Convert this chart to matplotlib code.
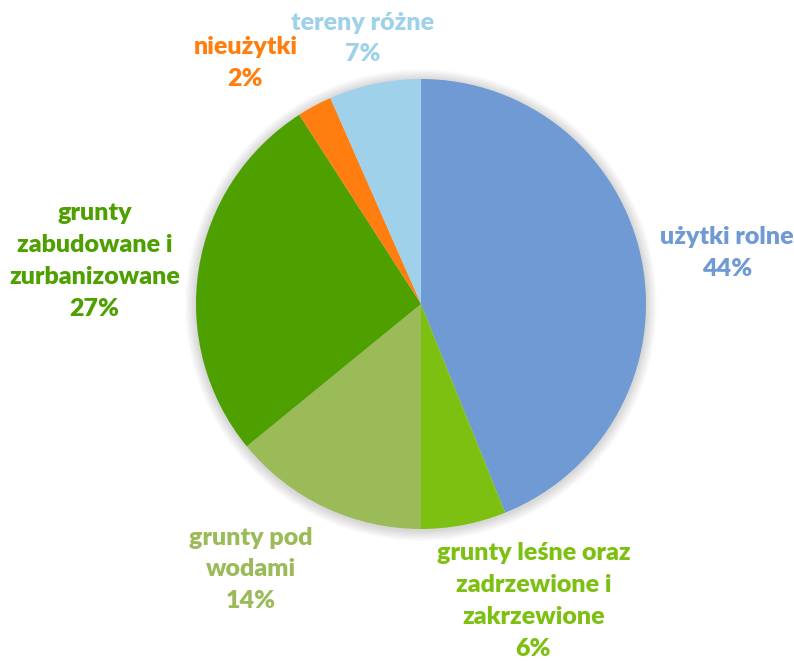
import matplotlib.pyplot as plt
from matplotlib.patches import Circle

# slices clockwise from 12 o'clock
labels = ['użytki rolne', 'grunty leśne oraz\nzadrzewione i\nzakrzewione', 'grunty pod\nwodami',
          'grunty\nzabudowane i\nzurbanizowane', 'nieużytki', 'tereny różne']
values = [43.9, 6.1, 14.1, 26.8, 2.5, 6.6]
pct_text = ['44%', '6%', '14%', '27%', '2%', '7%']
colors = ['#6F9AD3', '#7DC011', '#9BBB59', '#4EA000', '#FF7E0F', '#9FD2EA']

# label anchor points (data units, pie radius = 1)
label_pos = [(1.36, 0.225), (0.50, -1.32), (-0.755, -1.18),
             (-1.45, 0.19), (-0.78, 1.07), (-0.26, 1.18)]

fig = plt.figure(figsize=(7.94, 6.61), dpi=100)
ax = fig.add_axes([0, 0, 1, 1])

# soft shadow around the pie
for i in range(8):
    ax.add_patch(Circle((0.0, -0.005), 1.0 + 0.006 * (i + 1), color='#000000',
                        alpha=0.018, lw=0, zorder=0))

ax.pie(values, colors=colors, startangle=90, counterclock=False, radius=1.0,
       wedgeprops=dict(linewidth=0), center=(0, 0))

for lab, pct, col, (x, y) in zip(labels, pct_text, colors, label_pos):
    ax.text(x, y, lab + '\n' + pct, color=col, ha='center', va='center',
            fontsize=18, fontweight='heavy', family='Lato', linespacing=1.55)

ax.set_xlim(-421 / 225, (794 - 421) / 225)
ax.set_ylim(-357 / 225, 304 / 225)
ax.set_aspect('auto')
ax.axis('off')

fig.savefig('out.png', dpi=100)
